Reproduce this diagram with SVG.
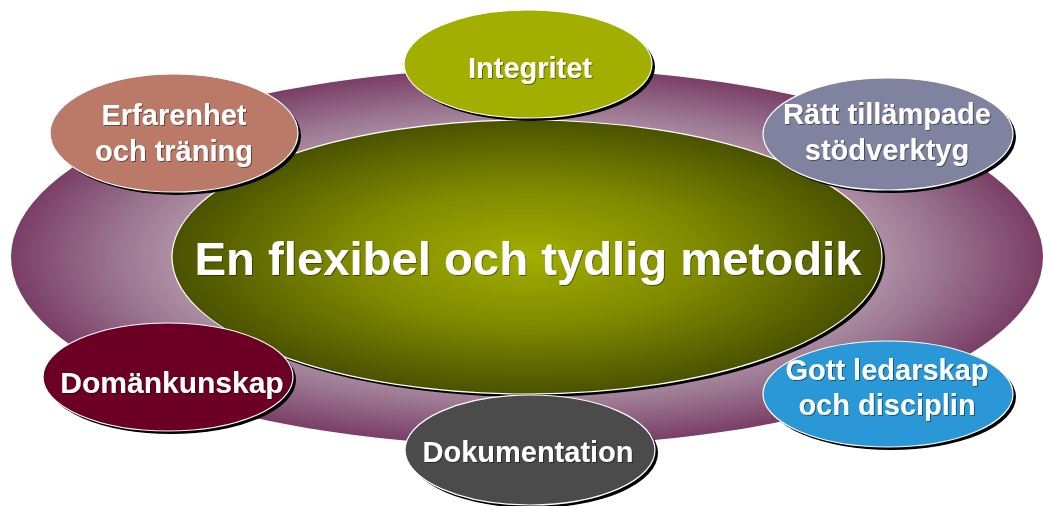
<svg xmlns="http://www.w3.org/2000/svg" xmlns:xlink="http://www.w3.org/1999/xlink" width="1043" height="506" viewBox="0 0 1043 506">
<defs>
<radialGradient id="gBg" cx="0.5" cy="0.5" r="0.5">
<stop offset="0" stop-color="#ede6ea"/>
<stop offset="0.55" stop-color="#c3aebb"/>
<stop offset="0.8" stop-color="#9a7590"/>
<stop offset="1" stop-color="#7a3e66"/>
</radialGradient>
<radialGradient id="gCenter" cx="0.5" cy="0.5" r="0.5">
<stop offset="0" stop-color="#a3ae00"/>
<stop offset="0.5" stop-color="#7f8a00"/>
<stop offset="1" stop-color="#4a5200"/>
</radialGradient>
<filter id="ts" x="-10%" y="-30%" width="120%" height="160%">
<feDropShadow dx="1" dy="1" stdDeviation="0.6" flood-color="#000" flood-opacity="0.45"/>
</filter>
</defs>
<style>
.sh{fill:#000}
.nd{stroke:#fff;stroke-width:1.2}
.lbl{font-family:"Liberation Sans",Arial,sans-serif;font-weight:bold;fill:#fff;text-anchor:middle;font-size:29px;filter:url(#ts)}
</style>
<g id="background">
<ellipse cx="527" cy="257" rx="516" ry="189" fill="url(#gBg)"/>
</g>
<g id="connectors"></g>
<g id="center">
<ellipse class="sh" cx="530" cy="260" rx="355" ry="137"/>
<ellipse class="nd" cx="527" cy="257" rx="355" ry="137" fill="url(#gCenter)"/>
<text class="lbl" x="528" y="275" style="font-size:46px" textLength="667" lengthAdjust="spacingAndGlyphs">En flexibel och tydlig metodik</text>
</g>
<g id="integritet">
<ellipse class="sh" cx="531" cy="67" rx="124" ry="54"/>
<ellipse class="nd" cx="528" cy="64" rx="124" ry="54" fill="#a2ae00"/>
<text class="lbl" x="530" y="78">Integritet</text>
</g>
<g id="erfarenhet">
<ellipse class="sh" cx="177" cy="136" rx="124" ry="59"/>
<ellipse class="nd" cx="174" cy="133" rx="124" ry="59" fill="#bb7a68"/>
<text class="lbl" x="174" y="125">Erfarenhet</text>
<text class="lbl" x="174" y="161">och träning</text>
</g>
<g id="ratt">
<ellipse class="sh" cx="891" cy="137" rx="125" ry="56"/>
<ellipse class="nd" cx="888" cy="134" rx="125" ry="56" fill="#7f839f"/>
<text class="lbl" x="887" y="124">Rätt tillämpade</text>
<text class="lbl" x="887" y="160">stödverktyg</text>
</g>
<g id="domankunskap">
<ellipse class="sh" cx="171" cy="380" rx="125" ry="54"/>
<ellipse class="nd" cx="168" cy="377" rx="125" ry="54" fill="#6b0024"/>
<text class="lbl" x="172" y="393" style="font-size:30px">Domänkunskap</text>
</g>
<g id="gott">
<ellipse class="sh" cx="891" cy="397" rx="125" ry="53"/>
<ellipse class="nd" cx="888" cy="394" rx="125" ry="53" fill="#2a98d6"/>
<text class="lbl" x="887" y="380">Gott ledarskap</text>
<text class="lbl" x="887" y="415">och disciplin</text>
</g>
<g id="dokumentation">
<ellipse class="sh" cx="533" cy="453" rx="125" ry="55"/>
<ellipse class="nd" cx="530" cy="450" rx="125" ry="55" fill="#4b4b4b"/>
<text class="lbl" x="528" y="462">Dokumentation</text>
</g>
</svg>
